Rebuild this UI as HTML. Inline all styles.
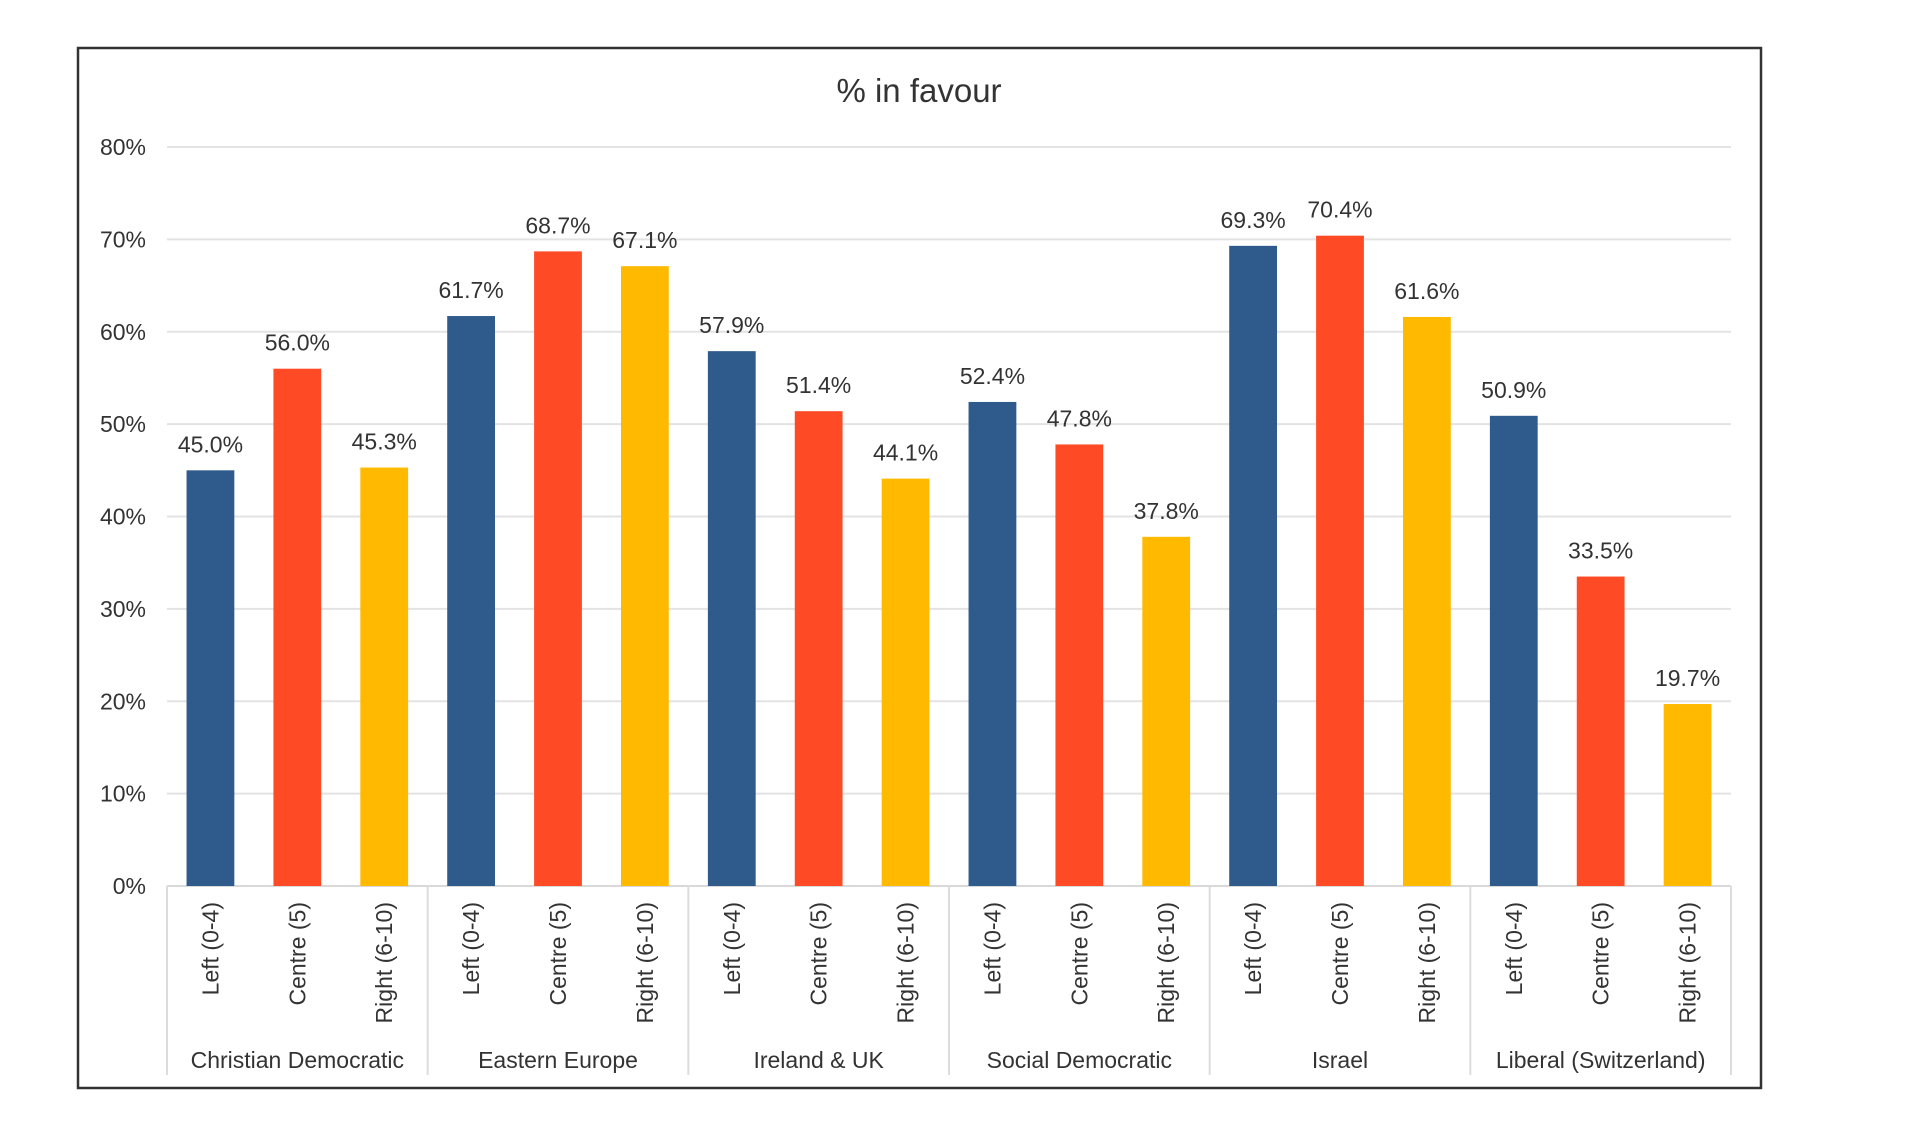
<!DOCTYPE html>
<html><head><meta charset="utf-8"><style>
html,body{margin:0;padding:0;background:#fff;width:1920px;height:1145px;overflow:hidden}
svg text{font-family:"Liberation Sans",sans-serif;fill:#333}
</style></head><body>
<svg id="chart" width="1920" height="1145" viewBox="0 0 1920 1145" xmlns="http://www.w3.org/2000/svg">
<rect x="78" y="48" width="1683" height="1040" fill="#fff" stroke="#333" stroke-width="2.5"/>
<text x="919" y="102" font-size="33" text-anchor="middle">% in favour</text>
<g id="grid"></g><g id="bars"></g><g id="labels"></g>
</svg>
<script>
const groups = ["Christian Democratic","Eastern Europe","Ireland & UK","Social Democratic","Israel","Liberal (Switzerland)"];
const seriesNames = ["Left (0-4)","Centre (5)","Right (6-10)"];
const leftVals = [45.0,61.7,57.9,52.4,69.3,50.9];
const centreVals = [56.0,68.7,51.4,47.8,70.4,33.5];
const rightVals = [45.3,67.1,44.1,37.8,61.6,19.7];
const yTicks = [0,10,20,30,40,50,60,70,80];
const colors = ["#2F5A8C","#FF4A26","#FFBA00"];
const series = [leftVals, centreVals, rightVals];
const NS="http://www.w3.org/2000/svg";
const x0=167, x1=1731, y0=886, yTop=147, ymax=80;
const slot=(x1-x0)/(groups.length*3);
const y=v=>y0-(v/ymax)*(y0-yTop);
const xc=i=>x0+slot*(i+0.5);
function mk(tag,attrs,parent,txt){const e=document.createElementNS(NS,tag);for(const k in attrs)e.setAttribute(k,attrs[k]);if(txt!==undefined)e.textContent=txt;parent.appendChild(e);return e;}
const grid=document.getElementById('grid'),bars=document.getElementById('bars'),labels=document.getElementById('labels');
yTicks.forEach(t=>{
  const l=mk('line',{x1:x0,x2:x1,y1:y(t),y2:y(t),stroke:t===0?'#d9d9d9':'#e3e3e3','stroke-width':2},grid);
  
  
  const tx=mk('text',{x:146,y:y(t)+8,'font-size':23,'text-anchor':'end'},grid,t+'%');
  
  
});
for(let g=0;g<=groups.length;g++){
  const xx=x0+slot*3*g;
  const s=mk('line',{x1:xx,x2:xx,y1:y0,y2:1075,stroke:'#dcdcdc','stroke-width':2},grid);
  
  
}
groups.forEach((gname,g)=>{
  series.forEach((vals,s)=>{
    const i=g*3+s, v=vals[g], bw=slot*0.55;
    const r=mk('rect',{x:xc(i)-bw/2,y:y(v),width:bw,height:y0-y(v),fill:colors[s]},bars);
    
    
    const vl=mk('text',{x:xc(i),y:y(v)-18,'font-size':23,'text-anchor':'middle'},labels,v.toFixed(1)+'%');
    
    
    const cl=mk('text',{x:0,y:0,'font-size':23,'text-anchor':'end',transform:'translate('+(xc(i)+8)+',902) rotate(-90)'},labels,seriesNames[s]);
    
    
  });
  const gl=mk('text',{x:x0+slot*3*(g+0.5),y:1068,'font-size':23,'text-anchor':'middle'},labels,gname);
  
  
});
</script>
</body></html>
